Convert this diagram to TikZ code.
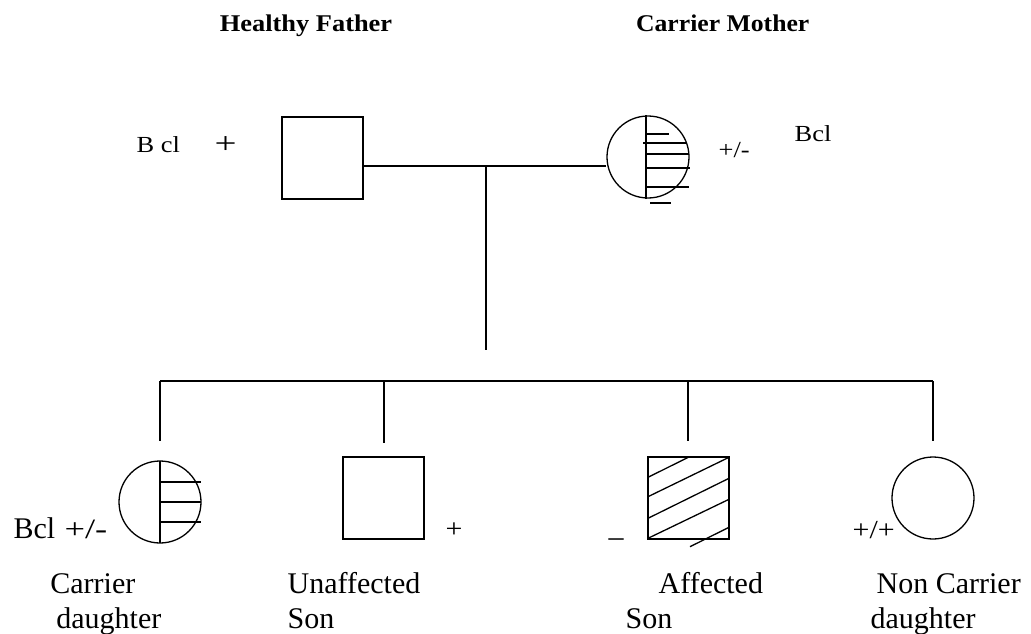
\documentclass[tikz,border=0pt]{standalone}
\usepackage{fontspec}
\setmainfont{Liberation Serif}
\usepackage{graphicx}
\newcommand{\widetxt}[1]{\scalebox{1.15}[1]{#1}}
\begin{document}
\begin{tikzpicture}[x=1pt,y=-1pt, line width=1.3pt,
  malebox/.style={draw, rectangle, minimum width=81pt, minimum height=82pt, inner sep=0pt},
  fembox/.style={draw, circle, minimum size=82pt, inner sep=0pt},
  hatch/.style={line width=1.3pt},
  titletext/.style={font=\fontsize{24}{28}\selectfont\bfseries, inner sep=0pt},
  labtext/.style={font=\fontsize{30}{36}\selectfont, inner sep=0pt},
  smalltext/.style={font=\fontsize{23}{27}\selectfont, inner sep=0pt}]
\useasboundingbox (0,0) rectangle (1031,634);

% titles
\node[titletext, anchor=base] (tf) at (306,32) {\scalebox{1.1}[1]{Healthy Father}};
\node[titletext, anchor=base east] (tm) at (810,32) {\scalebox{1.07}[1]{Carrier Mother}};

% parents
\node[malebox] (father) at (322.5,158) {};
\node[fembox] (mother) at (648,157) {};

% mother hatching
\draw[hatch] (646,115) -- (646,199);
\draw[hatch] (646,134) -- (669,134);
\draw[hatch] (643,143) -- (687,143);
\draw[hatch] (646,154) -- (689,154);
\draw[hatch] (646,168) -- (690,168);
\draw[hatch] (646,187) -- (689,187);
\draw[hatch] (650,203) -- (671,203);

% parent labels
\node[smalltext, anchor=base west] (fbcl) at (136,152) {\widetxt{B cl}};
\node[font=\fontsize{30}{34}\selectfont, inner sep=0pt, anchor=base west] (fplus) at (214,153) {\scalebox{1.3}[1]{+}};
\node[smalltext, anchor=base west] (mgen) at (718,157) {\widetxt{+/-}};
\node[smalltext, anchor=base west] (mbcl) at (794,141) {\widetxt{Bcl}};

% couple line and descent
\coordinate (cpl) at (486,166);
\coordinate (desc) at (486,350);
\draw (father.east |- cpl) -- (mother.west |- cpl);
\draw (cpl) -- (desc);

% children
\node[fembox] (cd) at (160,502) {};
\node[malebox] (us) at (383.5,498) {};
\node[malebox] (as) at (688.5,498) {};
\node[fembox] (nc) at (933,498) {};

% sibship line
\coordinate (sibL) at (160,381);
\coordinate (sibR) at (933,381);
\draw (sibL) -- (sibR);
\coordinate (d1) at (160,441);
\coordinate (d2) at (384,443);
\coordinate (d3) at (688,441);
\coordinate (d4) at (933,441);
\draw (sibL) -- (d1);
\draw (d2 |- sibL) -- (d2);
\draw (d3 |- sibL) -- (d3);
\draw (sibR) -- (d4);

% carrier daughter hatching
\draw[hatch] (160,461) -- (160,543);
\draw[hatch] (160,482) -- (201,482);
\draw[hatch] (160,502) -- (201,502);
\draw[hatch] (160,522) -- (201,522);

% affected son hatching
\draw[hatch] (648,477.3) -- (688.3,457.3);
\draw[hatch] (648,496.7) -- (729,457.3);
\draw[hatch] (648,518.3) -- (729,478.3);
\draw[hatch] (648,538.3) -- (729,499.3);
\draw[hatch] (690,546.7) -- (729,527.3);

% child genotype labels
\node[labtext, anchor=base west] (cdbcl) at (13,538) {Bcl};
\node[font=\fontsize{28}{32}\selectfont, inner sep=0pt, anchor=base east] (cdgen) at (108,538) {\scalebox{1.3}[1]{+/-}};
\node[font=\fontsize{26}{30}\selectfont, inner sep=0pt, anchor=base west] (usgen) at (445,537) {\widetxt{+}};
\node[labtext, anchor=base west] (asgen) at (608,546) {–};
\node[font=\fontsize{26}{30}\selectfont, inner sep=0pt, anchor=base west] (ncgen) at (852,538) {\widetxt{+/+}};

% child names
\node[labtext, anchor=base east] (cdn1) at (136,593) {Carrier};
\node[labtext, anchor=base east] (cdn2) at (162,628) {daughter};
\node[labtext, anchor=base west] (usn1) at (287,593) {Unaffected};
\node[labtext, anchor=base west] (usn2) at (287,628) {Son};
\node[labtext, anchor=base west] (asn1) at (658,593) {Affected};
\node[labtext, anchor=base west] (asn2) at (625,628) {Son};
\node[labtext, anchor=base west] (ncn1) at (876,593) {Non Carrier};
\node[labtext, anchor=base west] (ncn2) at (870,628) {daughter};
\end{tikzpicture}
\end{document}
